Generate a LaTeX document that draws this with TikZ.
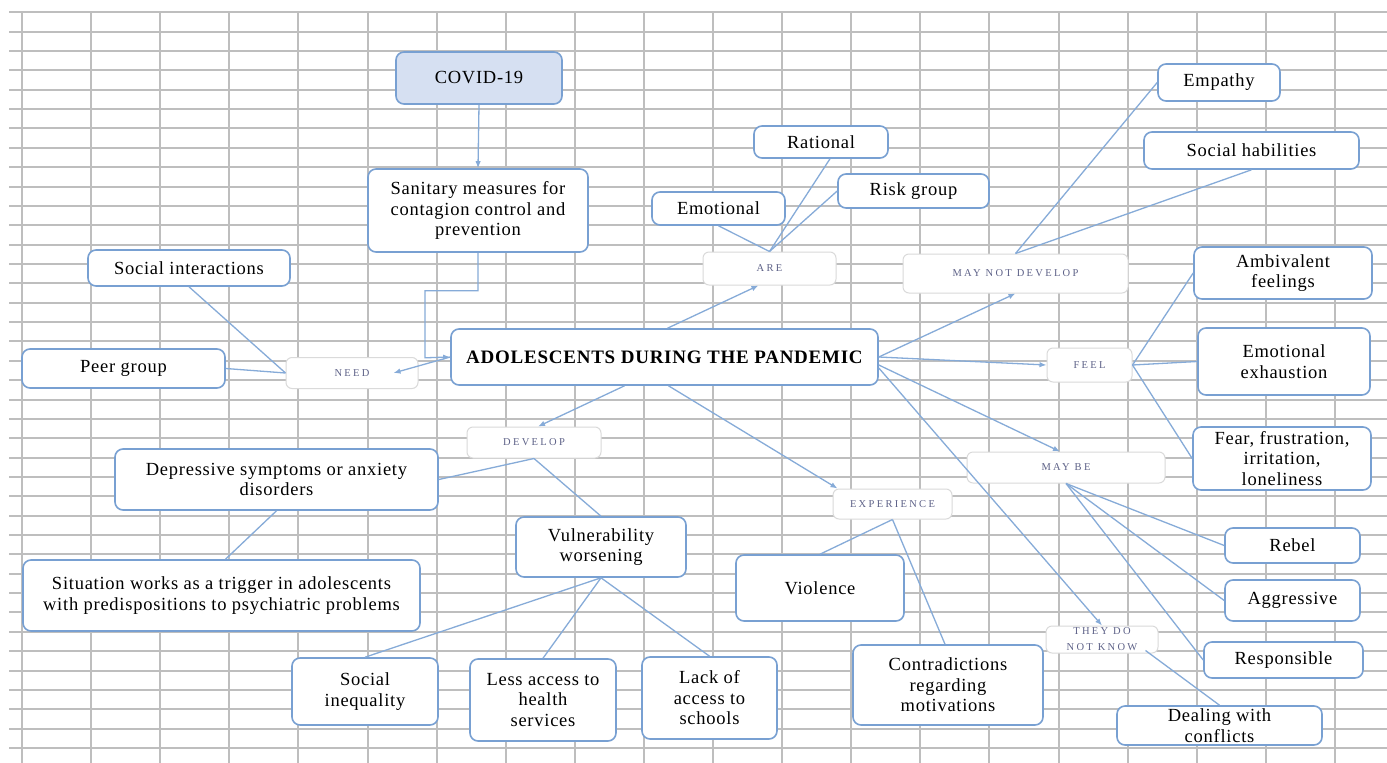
\documentclass[tikz,border=0pt]{standalone}
\usepackage{fontspec}
\setmainfont{Liberation Serif}[LetterSpace=4]
\newfontfamily\lblfont{Liberation Serif}[LetterSpace=22]
\usetikzlibrary{arrows.meta}
\definecolor{gridgray}{HTML}{BEBEBE}
\definecolor{boxblue}{HTML}{78A0D2}
\definecolor{connblue}{HTML}{86ABD8}
\definecolor{covidfill}{HTML}{D6E0F2}
\definecolor{lblborder}{HTML}{DADADA}
\definecolor{lbltext}{HTML}{5E6288}
\begin{document}
\begin{tikzpicture}[x=1pt,y=-1pt,
  leaf/.style={draw=boxblue, line width=1.6pt, fill=white, rounded corners=8pt, inner sep=0pt, align=center, font=\fontsize{18.5}{20.5}\selectfont},
  lbl/.style={draw=lblborder, line width=1pt, fill=white, rounded corners=6pt, inner sep=0pt, align=center, text=lbltext, font=\lblfont\fontsize{10.5}{16}\selectfont},
  sz/.style 2 args={minimum width=#1, minimum height=#2},
  conn/.style={draw=connblue, line width=1.3pt},
  arr/.style={conn, -{Latex[length=7pt,width=5.5pt]}},
  gridline/.style={draw=gridgray, line width=2pt}
]
\useasboundingbox (0,0) rectangle (1387,763);
\fill[white] (0,0) rectangle (1387,763);
% spreadsheet grid
\foreach \k in {0,...,38} \draw[gridline] ({9},{12.3+\k*19.36}) -- ({1387},{12.3+\k*19.36});
\foreach \k in {0,...,19} \draw[gridline] ({22+\k*69.1},{12.3}) -- ({22+\k*69.1},{763});

% nodes
\node[leaf, fill=covidfill, sz={166pt}{52pt}] (covid) at (479,78) {COVID-19};
\node[leaf, sz={220pt}{83pt}] (sanit) at (478,210.5) {Sanitary measures for\\contagion control and\\prevention};
\node[leaf, sz={202pt}{36pt}] (socint) at (189,268) {Social interactions};
\node[leaf, sz={203pt}{39pt}] (peer) at (123.5,368.5) {Peer group};
\node[lbl, sz={132pt}{31pt}] (need) at (352,373) {NEED};
\node[leaf, sz={427pt}{56pt}, font=\bfseries\fontsize{19}{22}\selectfont] (center) at (664.5,357) {ADOLESCENTS DURING THE PANDEMIC};
\node[lbl, sz={133pt}{33pt}] (are) at (769.5,268.5) {ARE};
\node[leaf, sz={133pt}{33pt}] (emot) at (718.5,208.5) {Emotional};
\node[leaf, sz={134pt}{32pt}] (ratio) at (821,142) {Rational};
\node[leaf, sz={151pt}{34pt}] (risk) at (913.5,191) {Risk group};
\node[lbl, sz={225pt}{39pt}] (maynot) at (1015.5,273.5) {MAY NOT DEVELOP};
\node[leaf, sz={122pt}{37pt}] (empathy) at (1219,82.5) {Empathy};
\node[leaf, sz={215pt}{37pt}] (sochab) at (1251.5,150.5) {Social habilities};
\node[leaf, sz={178pt}{52pt}] (ambiv) at (1283,273) {Ambivalent\\feelings};
\node[leaf, sz={172pt}{67pt}] (exhaus) at (1284,361.5) {Emotional\\exhaustion};
\node[leaf, sz={178pt}{63pt}] (fear) at (1282,458.5) {Fear, frustration,\\irritation,\\loneliness};
\node[lbl, sz={85pt}{34pt}] (feel) at (1089.5,365) {FEEL};
\node[lbl, sz={198pt}{31pt}] (maybe) at (1066,467.5) {MAY BE};
\node[leaf, sz={135pt}{35pt}] (rebel) at (1292.5,545.5) {Rebel};
\node[leaf, sz={135pt}{41pt}] (aggr) at (1292.5,600.5) {Aggressive};
\node[leaf, sz={159pt}{36pt}] (respons) at (1283.5,660) {Responsible};
\node[lbl, sz={112pt}{27pt}] (theydont) at (1102,639.5) {THEY DO\\NOT KNOW};
\node[leaf, sz={205pt}{39pt}] (dealing) at (1219.5,725.5) {Dealing with\\conflicts};
\node[lbl, sz={119pt}{30pt}] (exper) at (892.5,504) {EXPERIENCE};
\node[leaf, sz={168pt}{66pt}] (violence) at (820,588) {Violence};
\node[leaf, sz={190pt}{80pt}] (contra) at (948,685) {Contradictions\\regarding\\motivations};
\node[lbl, sz={134pt}{31pt}] (develop) at (534,442.5) {DEVELOP};
\node[leaf, sz={323pt}{61pt}] (depress) at (276.5,479.5) {Depressive symptoms or anxiety\\disorders};
\node[leaf, sz={397pt}{71pt}] (situation) at (221.5,595.5) {Situation works as a trigger in adolescents\\with predispositions to psychiatric problems};
\node[leaf, sz={170pt}{60pt}] (vulner) at (601,547) {Vulnerability\\worsening};
\node[leaf, sz={146pt}{67pt}] (socineq) at (365,691.5) {Social\\inequality};
\node[leaf, sz={146pt}{82pt}] (lessacc) at (543,700) {Less access to\\health\\services};
\node[leaf, sz={135pt}{82pt}] (lackacc) at (709.5,698) {Lack of\\access to\\schools};

% connectors
\draw[arr] (covid.south) -- (sanit.north);
\draw[arr] (sanit.south) -- ++(0,38) -- ++(-53,0) -- ++(0,67) -- (center.west);
\draw[arr] (center.west) -- ([xshift=-25pt]need.east);
\draw[conn] (socint.south) -- (need.west);
\draw[conn] (peer.east) -- (need.west);

\draw[arr] ([xshift=3pt]center.north) -- ([xshift=-11pt]are.south);
\draw[conn] (emot.south) -- (are.north);
\draw[conn] ([xshift=9pt]ratio.south) -- (are.north);
\draw[conn] (risk.west) -- (are.north);

\draw[arr] (center.east) -- (maynot.south);
\draw[conn] (maynot.north) -- (empathy.west);
\draw[conn] (maynot.north) -- (sochab.south);

\draw[arr] (center.east) -- (feel.west);
\draw[conn] (feel.east) -- (ambiv.west);
\draw[conn] (feel.east) -- (exhaus.west);
\draw[conn] (feel.east) -- (fear.west);

\draw[arr] ([yshift=-8pt]center.east) -- ([xshift=-6pt]maybe.north);
\draw[conn] (maybe.south) -- (rebel.west);
\draw[conn] (maybe.south) -- (aggr.west);
\draw[conn] (maybe.south) -- (respons.west);

\draw[arr] ([yshift=-11pt]center.east) -- (theydont.north);
\draw[conn] ([xshift=-13pt,yshift=3pt]theydont.south east) -- (dealing.north);

\draw[arr] ([xshift=4pt]center.south) -- ([xshift=-55pt]exper.north);
\draw[conn] (exper.south) -- (violence.north);
\draw[conn] (exper.south) -- ([xshift=-3pt]contra.north);

\draw[arr] ([xshift=-40pt]center.south) -- ([xshift=4pt]develop.north);
\draw[conn] (develop.south) -- (depress.east);
\draw[conn] (develop.south) -- (vulner.north);
\draw[conn] (depress.south) -- ([xshift=4pt]situation.north);

\draw[conn] (vulner.south) -- (socineq.north);
\draw[conn] (vulner.south) -- (lessacc.north);
\draw[conn] (vulner.south) -- (lackacc.north);
\end{tikzpicture}
\end{document}
